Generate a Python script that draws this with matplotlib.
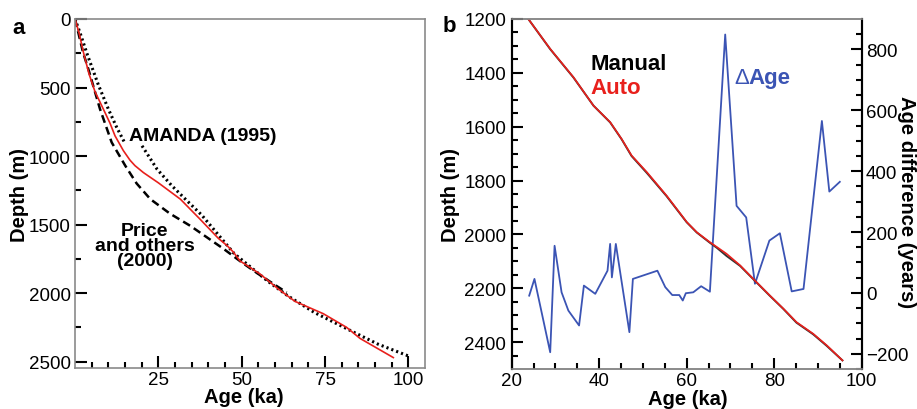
import numpy as np
import matplotlib
matplotlib.use("Agg")
import matplotlib.pyplot as plt
from matplotlib.ticker import MultipleLocator, FixedLocator

plt.rcParams['font.family'] = ['Liberation Sans', 'DejaVu Sans']

# ---------------- Panel a data ----------------
a_red_age = [0, 1.2, 2.6, 4.2, 6.0, 8.5, 10.5, 12.0, 14.5, 16.5, 18.0, 20.5, 25, 31.6,
             37.5, 43.0, 45.7, 47.5, 49.5, 55.5, 61, 66, 74.5, 81.5, 85.5, 95.5]
a_red_depth = [0, 100, 250, 400, 530, 657, 760, 852, 960, 1030, 1070, 1120, 1195, 1314,
               1460, 1600, 1655, 1700, 1765, 1860, 1970, 2060, 2150, 2250, 2330, 2470]

a_amanda_age = [0, 1.5, 3.7, 7.0, 10.0, 12.5, 15.1, np.nan,
                20.1, 24.6, 29.0, 33.1, 38.0, 42.5, 47.7, 52.7, 57.7, 63.8,
                71.8, 77.8, 83.8, 90.9, 99.9]
a_amanda_depth = [0, 100, 260, 480, 657, 790, 912, np.nan,
                  925, 1095, 1215, 1314, 1430, 1560, 1710, 1810, 1910, 2019,
                  2141, 2214, 2287, 2372, 2457]

a_price_age = [0, 1.0, 2.4, 4.0, 7.5, 11.0, 15.1, 18.5, 22.6, 28.5, 34.6, 40.0,
               44.7, 50.0, 55.0, 60.0, 63.5]
a_price_depth = [0, 100, 243, 365, 657, 900, 1071, 1200, 1314, 1420, 1509, 1600,
                 1679, 1775, 1860, 1940, 1995]

# ---------------- Panel b data ----------------
b_auto_age = [23.8, 28.8, 34.1, 38.7, 42.5, 45.1, 47.4, 50.9, 55.4, 60.0, 62.3, 65.3,
              66.9, 69.1, 72.2, 75.2, 79.0, 82.1, 85.1, 88.9, 92.0, 95.6]
b_auto_depth = [1200, 1311, 1416, 1522, 1583, 1645, 1707, 1769, 1856, 1954, 1992, 2029,
                2047, 2072, 2115, 2165, 2227, 2276, 2326, 2369, 2412, 2468]
b_manual_age = [23.8, 28.8, 34.1, 38.7, 42.5, 45.1, 47.4, 50.9, 55.4, 60.0, 62.3, 65.3,
                66.9, 69.1, 72.2, 75.2, 79.0, 82.1, 85.1, 88.9, 92.0, 95.6]
b_manual_depth = [1200, 1312, 1417, 1522, 1584, 1646, 1709, 1772, 1858, 1955, 1993, 2031,
                  2050, 2080, 2117, 2166, 2228, 2277, 2328, 2371, 2414, 2468]

b_dage_age = [24.0, 25.2, 28.8, 29.8, 31.4, 32.95, 35.4, 36.5, 39.1, 41.9, 42.5, 42.9,
              43.8, 46.9, 47.7, 53.3, 55.1, 56.7, 58.3, 59.1, 59.8, 61.5, 63.3, 65.3,
              68.8, 71.4, 73.6, 75.6, 78.9, 81.3, 84.0, 86.7, 90.9, 92.6, 95.0]
b_dage_val = [-9, 46, -195, 155, 2, -58, -107, 24, -3, 73, 161, 51,
              161, -129, 46, 73, 19, -7, -7, -25, -1, 2, 22, 4,
              849, 286, 248, 30, 172, 196, 5, 13, 565, 333, 365]

RED = '#e8201c'
BLUE = '#3b54b4'
SPINE_GRAY = '#8a8a8a'
TICK_FS = 13.5
LABEL_FS = 14.5

fig = plt.figure(figsize=(9.17, 4.10), dpi=100)
W, H = 917.0, 410.0

# ---------------- Panel a ----------------
ax1 = fig.add_axes([75 / W, 1 - 369 / H, 350 / W, 349 / H])
ax1.plot(a_price_age, a_price_depth, color='black', lw=1.8, dashes=(3.2, 1.8))
ax1.plot(a_amanda_age, a_amanda_depth, color='black', lw=2.2, dashes=(0.7, 1.0))
ax1.plot(a_red_age, a_red_depth, color=RED, lw=1.2)
ax1.set_xlim(0, 105)
ax1.set_ylim(2546, 0)
ax1.xaxis.set_major_locator(FixedLocator([25, 50, 75, 100]))
ax1.xaxis.set_minor_locator(FixedLocator([v for v in range(5, 105, 5) if v % 25 != 0]))
ax1.yaxis.set_major_locator(MultipleLocator(500))
ax1.yaxis.set_minor_locator(MultipleLocator(250))
for sp in ax1.spines.values():
    sp.set_color(SPINE_GRAY)
    sp.set_linewidth(1.2)
ax1.tick_params(which='major', direction='in', length=8.5, width=1.5, labelsize=TICK_FS, pad=3)
ax1.tick_params(which='minor', direction='in', length=4.5, width=1.5)
ax1.tick_params(axis='x', which='both', top=False)
ax1.tick_params(axis='y', which='both', right=False)
ax1.tick_params(axis='x', which='major', pad=2)
ax1.set_xlabel('Age (ka)', fontsize=LABEL_FS, fontweight='bold')
ax1.xaxis.label.set_verticalalignment('center')
ax1.xaxis.set_label_coords(0.482, -0.083)
ax1.set_ylabel('Depth (m)', fontsize=LABEL_FS, fontweight='bold')
ax1.yaxis.label.set_verticalalignment('center')
ax1.yaxis.set_label_coords(-0.159, 0.5)
ax1.text(38.3, 847, 'AMANDA (1995)', fontsize=14, fontweight='bold', ha='center', va='center')
ax1.text(21.0, 1655, 'Price\nand others\n(2000)', fontsize=14, fontweight='bold',
         ha='center', va='center', linespacing=0.85)

# ---------------- Panel b ----------------
ax2 = fig.add_axes([511.7 / W, 1 - 370 / H, 350 / W, 350 / H])
ax3 = ax2.twinx()
ax2.set_zorder(ax3.get_zorder() + 1)
ax2.patch.set_visible(False)

ax3.plot(b_dage_age, b_dage_val, color=BLUE, lw=1.3)
ax2.plot(b_manual_age, b_manual_depth, color='#333333', lw=1.4)
ax2.plot(b_auto_age, b_auto_depth, color=RED, lw=1.2)

ax2.set_xlim(20, 100)
ax2.set_ylim(2500, 1200)
ax3.set_ylim(-250, 900)
ax2.xaxis.set_major_locator(MultipleLocator(20))
ax2.xaxis.set_minor_locator(MultipleLocator(5))
ax2.yaxis.set_major_locator(FixedLocator([1200, 1400, 1600, 1800, 2000, 2200, 2400]))
ax2.yaxis.set_minor_locator(FixedLocator([v for v in range(1250, 2500, 50) if v % 200 != 0]))
ax3.yaxis.set_major_locator(FixedLocator([-200, 0, 200, 400, 600, 800]))
ax3.yaxis.set_minor_locator(FixedLocator([v for v in range(-250, 900, 50) if v % 200 != 0]))

for ax in (ax2, ax3):
    for sp in ax.spines.values():
        sp.set_color(SPINE_GRAY)
        sp.set_linewidth(1.2)
    ax.spines['left'].set_color('black')
    ax.spines['right'].set_color('black')
    ax.spines['left'].set_linewidth(1.5)
    ax.spines['right'].set_linewidth(1.5)

ax2.tick_params(which='major', direction='in', length=8, width=1.5, labelsize=TICK_FS, pad=4)
ax2.tick_params(which='minor', direction='in', length=4.5, width=1.5)
ax2.tick_params(axis='x', which='both', top=False)
ax2.tick_params(axis='y', which='both', right=False)
ax2.tick_params(axis='x', which='major', pad=2)
ax3.tick_params(which='major', direction='in', length=8, width=1.5, labelsize=TICK_FS, pad=3)
ax3.tick_params(which='minor', direction='in', length=4.5, width=1.5)
ax3.tick_params(axis='x', which='both', top=False, bottom=False)

ax2.set_xlabel('Age (ka)', fontsize=LABEL_FS, fontweight='bold')
ax2.xaxis.label.set_verticalalignment('center')
ax2.xaxis.set_label_coords(0.504, -0.083)
ax2.set_ylabel('Depth (m)', fontsize=LABEL_FS, fontweight='bold')
ax2.yaxis.label.set_verticalalignment('center')
ax2.yaxis.set_label_coords(-0.175, 0.5)
ax3.set_ylabel('Age difference (years)', fontsize=14.5, fontweight='bold', rotation=270)
ax3.yaxis.label.set_verticalalignment('center')
ax3.yaxis.set_label_coords(1.128, 0.479)

ax2.text(37.9, 1367, 'Manual', fontsize=16, fontweight='bold', color='black', ha='left', va='center')
ax2.text(37.9, 1453, 'Auto', fontsize=16, fontweight='bold', color=RED, ha='left', va='center')
ax2.text(71.0, 1417, '\u0394', fontsize=16, color=BLUE, ha='left', va='center')
ax2.text(74.0, 1417, 'Age', fontsize=16, fontweight='bold', color=BLUE, ha='left', va='center')

fig.text(19 / W, 1 - 28 / H, 'a', fontsize=16, fontweight='bold', ha='center', va='center')
fig.text(449 / W, 1 - 27 / H, 'b', fontsize=16, fontweight='bold', ha='center', va='center')

fig.savefig('out.png', dpi=100)
